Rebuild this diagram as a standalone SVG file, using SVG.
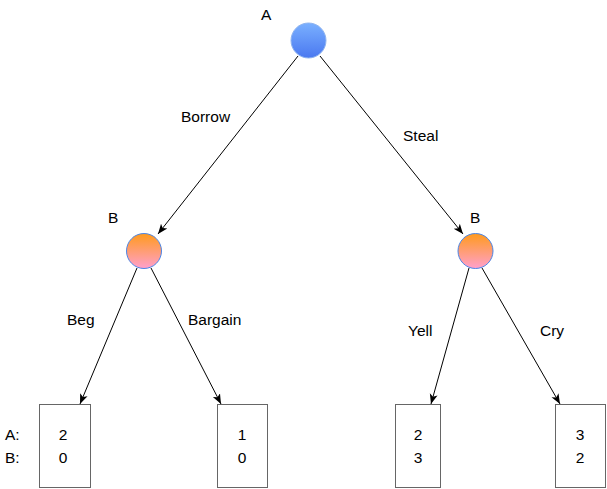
<svg xmlns="http://www.w3.org/2000/svg" width="607" height="489" viewBox="0 0 607 489">
<defs>
<linearGradient id="gA" x1="0" y1="0" x2="0" y2="1"><stop offset="0" stop-color="#7ab0ff"/><stop offset="1" stop-color="#4a78f0"/></linearGradient>
<linearGradient id="gB" x1="0" y1="0" x2="0" y2="1"><stop offset="0" stop-color="#ff9a1c"/><stop offset="1" stop-color="#ffa0cc"/></linearGradient>
<marker id="arr" viewBox="0 0 10 10" refX="10" refY="5" markerWidth="10" markerHeight="10" markerUnits="userSpaceOnUse" orient="auto"><path d="M0,1 L10,5 L0,9 L2.5,5 Z" fill="#000"/></marker>
<style>
text{font-family:"Liberation Sans",Arial,sans-serif;font-size:15.5px;fill:#000}
.edge{stroke:#000;stroke-width:1;fill:none;marker-end:url(#arr)}
.box{fill:#fff;stroke:#666;stroke-width:1}
.num{text-anchor:middle}
</style>
</defs>
<g id="connectors">
<line class="edge" x1="298" y1="56" x2="158" y2="234"/>
<line class="edge" x1="320" y1="56" x2="463" y2="234"/>
<line class="edge" x1="137" y1="268" x2="80" y2="404"/>
<line class="edge" x1="151" y1="268" x2="221" y2="404"/>
<line class="edge" x1="469" y1="268" x2="431" y2="404"/>
<line class="edge" x1="482" y1="268" x2="560" y2="404"/>
<text x="181" y="122">Borrow</text>
<text x="403" y="141">Steal</text>
<text x="67" y="325">Beg</text>
<text x="188" y="325">Bargain</text>
<text x="408" y="336">Yell</text>
<text x="540" y="336">Cry</text>
</g>
<g id="nodeA">
<circle cx="308.5" cy="40.5" r="17.5" fill="url(#gA)" stroke="#8fb4f0" stroke-width="1"/>
<text x="261" y="20">A</text>
</g>
<g id="nodeB1">
<circle cx="144" cy="251" r="17.5" fill="url(#gB)" stroke="#4a86e8" stroke-width="1"/>
<text x="108" y="223">B</text>
</g>
<g id="nodeB2">
<circle cx="475.5" cy="251" r="17.5" fill="url(#gB)" stroke="#4a86e8" stroke-width="1"/>
<text x="470" y="223">B</text>
</g>
<g id="legend">
<text x="5" y="440">A:</text>
<text x="5" y="463">B:</text>
</g>
<g id="leaf1">
<rect class="box" x="39.5" y="404.5" width="51" height="83"/>
<text class="num" x="63" y="440">2</text>
<text class="num" x="63" y="463">0</text>
</g>
<g id="leaf2">
<rect class="box" x="217.5" y="404.5" width="50" height="83"/>
<text class="num" x="242" y="440">1</text>
<text class="num" x="242" y="463">0</text>
</g>
<g id="leaf3">
<rect class="box" x="395.5" y="404.5" width="45" height="83"/>
<text class="num" x="418" y="440">2</text>
<text class="num" x="418" y="463">3</text>
</g>
<g id="leaf4">
<rect class="box" x="555.5" y="404.5" width="50" height="83"/>
<text class="num" x="580" y="440">3</text>
<text class="num" x="580" y="463">2</text>
</g>
</svg>
